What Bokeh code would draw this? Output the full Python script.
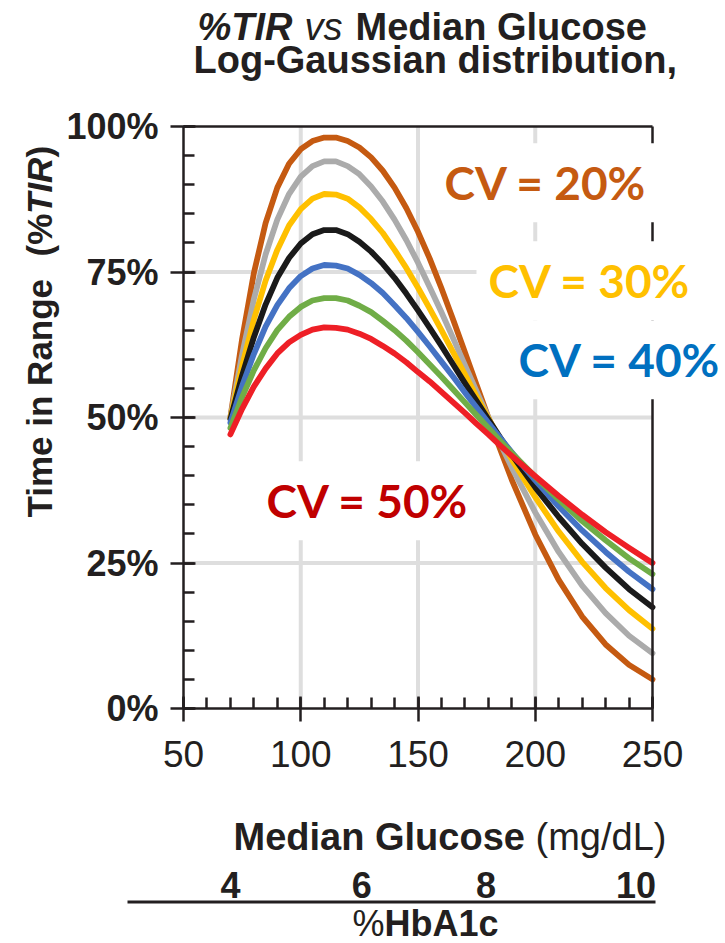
from math import pi

from bokeh.plotting import figure
from bokeh.models import (Range1d, LinearAxis, SingleIntervalTicker, FixedTicker,
                          PrintfTickFormatter, Label)
from bokeh.core.properties import value
from bokeh.embed import file_html
from bokeh.resources import INLINE

# ---------------------------------------------------------------------------
# Data: %TIR (70-180 mg/dL) against median glucose, one curve per CV
# ---------------------------------------------------------------------------
glucose = [70, 75, 80, 85, 90, 95, 100, 105, 110, 115, 120, 125, 130, 135, 140,
           145, 150, 155, 160, 165, 170, 175, 180, 185, 190, 200, 210, 220, 230,
           240, 250]

tir_cv20 = [50.0, 63.5, 74.8, 83.4, 89.5, 93.6, 96.1, 97.5, 98.1, 98.1, 97.5,
            96.4, 94.7, 92.4, 89.5, 86.0, 81.9, 77.3, 72.2, 66.8, 61.2, 55.6,
            50.0, 44.6, 39.3, 29.9, 22.1, 15.8, 11.0, 7.5, 5.0]
tir_cv25 = [50.0, 60.8, 70.3, 78.0, 84.0, 88.4, 91.4, 93.2, 94.0, 94.0, 93.2,
            91.8, 89.7, 87.1, 84.0, 80.5, 76.6, 72.4, 68.1, 63.6, 59.0, 54.5,
            50.0, 45.6, 41.4, 33.7, 26.9, 21.1, 16.4, 12.5, 9.5]
tir_cv30 = [49.9, 58.9, 66.8, 73.5, 78.8, 83.0, 85.8, 87.6, 88.4, 88.3, 87.6,
            86.1, 84.1, 81.7, 78.8, 75.7, 72.3, 68.7, 65.0, 61.2, 57.4, 53.6,
            49.9, 46.3, 42.8, 36.3, 30.4, 25.2, 20.7, 16.9, 13.7]
tir_cv35 = [49.7, 57.2, 63.8, 69.4, 74.0, 77.4, 79.9, 81.5, 82.2, 82.2, 81.5,
            80.2, 78.5, 76.4, 74.0, 71.3, 68.4, 65.4, 62.3, 59.1, 55.9, 52.8,
            49.7, 46.6, 43.6, 38.0, 32.9, 28.3, 24.2, 20.5, 17.4]
tir_cv40 = [49.1, 55.4, 60.9, 65.6, 69.3, 72.2, 74.3, 75.6, 76.2, 76.1, 75.6,
            74.5, 73.1, 71.4, 69.3, 67.1, 64.7, 62.2, 59.6, 57.0, 54.3, 51.7,
            49.1, 46.5, 44.0, 39.2, 34.7, 30.6, 26.9, 23.5, 20.5]
tir_cv45 = [48.2, 53.5, 58.1, 61.9, 65.0, 67.3, 69.0, 70.1, 70.5, 70.5, 70.1,
            69.2, 68.1, 66.6, 65.0, 63.2, 61.2, 59.1, 57.0, 54.8, 52.6, 50.4,
            48.2, 46.0, 43.9, 39.8, 35.9, 32.2, 28.9, 25.8, 23.1]
tir_cv50 = [47.1, 51.5, 55.3, 58.4, 61.0, 62.9, 64.2, 65.1, 65.5, 65.4, 65.1,
            64.4, 63.5, 62.3, 61.0, 59.5, 57.8, 56.2, 54.4, 52.6, 50.8, 48.9,
            47.1, 45.2, 43.4, 39.9, 36.5, 33.3, 30.3, 27.6, 25.0]

x_ticks = [50, 100, 150, 200, 250]
y_ticks = [0, 25, 50, 75, 100]

# HbA1c scale shown under the glucose axis, positioned at matching glucose
hba1c_labels = ["4", "6", "8", "10"]
hba1c_glucose = [70, 126, 179, 243]

# ---------------------------------------------------------------------------
# Layout constants (pixels). The frame fills the whole canvas; the data
# ranges are chosen so that 50-250 mg/dL and 0-100 % land on the plot box.
# ---------------------------------------------------------------------------
W, H = 725, 943
FL, FR, FT, FB = 183, 652, 126, 708          # plot box edges
X0, X1 = x_ticks[0], x_ticks[-1]
Y0, Y1 = y_ticks[0], y_ticks[-1]
KX = (FR - FL) / (X1 - X0)
KY = (FB - FT) / (Y1 - Y0)

INK = "#231f20"
FONT = "Liberation Sans"
# the label anchor sits at mid-height of the em box: offset to the baseline
LIB_MID = 0.3465
LATO_MID = 0.387


def gx(px):
    """canvas x pixel -> glucose units"""
    return X0 + (px - FL) / KX


def ty(py):
    """canvas y pixel -> percent units"""
    return Y0 + (FB - py) / KY


p = figure(width=W, height=H,
           x_range=Range1d(gx(0), gx(W)), y_range=Range1d(ty(H), ty(0)),
           output_backend="svg", toolbar_location=None, min_border=0,
           outline_line_color=None,
           background_fill_color="white", border_fill_color="white")
p.grid.visible = False

# light grid inside the plot box
grid_x = x_ticks[1:-1]
grid_y = y_ticks[1:-1]
p.segment(x0=grid_x, y0=Y0, x1=grid_x, y1=Y1, line_color="#dedede", line_width=4)
p.segment(x0=X0, y0=grid_y, x1=X1, y1=grid_y, line_color="#dedede", line_width=4)

# axes pinned to the plot box edges
xa = p.xaxis[0]
xa.fixed_location = Y0
xa.bounds = (X0, X1)
xa.ticker = SingleIntervalTicker(interval=50, num_minor_ticks=5)
ya = p.yaxis[0]
ya.fixed_location = X0
ya.bounds = (Y0, Y1)
ya.ticker = SingleIntervalTicker(interval=25, num_minor_ticks=5)
ya.formatter = PrintfTickFormatter(format="%d%%")

for ax in (xa, ya):
    ax.axis_line_color = INK
    ax.axis_line_width = 2.5
    ax.major_tick_line_color = INK
    ax.major_tick_line_width = 2.5
    ax.major_tick_in = 12
    ax.major_tick_out = 13
    ax.minor_tick_line_color = INK
    ax.minor_tick_line_width = 2.5
    ax.minor_tick_in = 11
    ax.minor_tick_out = 0
    ax.major_label_text_font = FONT
    ax.major_label_text_color = INK

xa.major_label_text_font_size = "37px"
xa.major_label_text_font_style = "normal"
xa.major_label_standoff = 19
ya.major_label_text_font_size = "36px"
ya.major_label_text_font_style = "bold"
ya.major_label_standoff = 12

# plain box lines on the top and right
top = LinearAxis(fixed_location=Y1, bounds=(X0, X1), ticker=FixedTicker(ticks=[]),
                 axis_line_color=INK, axis_line_width=2.5,
                 major_tick_line_color=None, minor_tick_line_color=None)
right = LinearAxis(fixed_location=X1, bounds=(Y0, Y1), ticker=FixedTicker(ticks=[]),
                   axis_line_color=INK, axis_line_width=2.5,
                   major_tick_line_color=None, minor_tick_line_color=None)
p.add_layout(top, "above")
p.add_layout(right, "right")

# curves, lowest CV first so the high-CV curves sit on top
series = [
    (tir_cv20, "#C55A11"),
    (tir_cv25, "#ABABAB"),
    (tir_cv30, "#FFC000"),
    (tir_cv35, "#1a1a1a"),
    (tir_cv40, "#4472C4"),
    (tir_cv45, "#70AD47"),
    (tir_cv50, "#EE1F26"),
]
for vals, color in series:
    p.line(glucose, vals, line_color=color, line_width=5.8,
           line_cap="round", line_join="round")

# CV call-outs on white boxes (the box padding shifts the text right by PAD_DX)
PAD = 12
PAD_DX = 14
CV_SIZE = 46
cv_notes = [
    ("CV = 20%", 446, 200, "#C55A11"),
    ("CV = 30%", 490, 298, "#FFC000"),
    ("CV = 40%", 520, 377, "#0070C0"),
    ("CV = 50%", 268, 518, "#C00000"),
]
for text, px, py, color in cv_notes:
    p.add_layout(Label(x=gx(px - PAD_DX), y=ty(py - LATO_MID * CV_SIZE), text=text,
                       text_font="Lato", text_font_style="bold",
                       text_font_size=f"{CV_SIZE}px", text_color=color,
                       text_align="left", text_baseline="alphabetic",
                       background_fill_color="white", padding=PAD))


def add_text(px, py, text, size, style, rotated=False):
    """Place a text piece with its start at canvas pixel (px, py) on the baseline."""
    if rotated:
        fx, fy, angle = gx(px - LIB_MID * size), ty(py), pi / 2
    else:
        fx, fy, angle = gx(px), ty(py - LIB_MID * size), 0.0
    p.add_layout(Label(x=fx, y=fy, text=text, text_font=FONT,
                       text_font_style=style, text_font_size=f"{size}px",
                       text_color=INK, text_align="left",
                       text_baseline="alphabetic", angle=angle))


# title
add_text(197, 40, "%TIR", 38, "bold italic")
add_text(304, 40, "vs", 38, "italic")
add_text(355, 40, "Median Glucose", 38, "bold")
add_text(193, 73, "Log-Gaussian distribution,", 38, "bold")

# vertical axis title
add_text(51, 517, "Time in Range", 35, "bold", rotated=True)
add_text(51, 256, "(%", 35, "bold", rotated=True)
add_text(51, 213.5, "TIR", 35, "bold italic", rotated=True)
add_text(51, 157, ")", 35, "bold", rotated=True)

# horizontal axis title
add_text(233, 850, "Median Glucose", 38, "bold")
add_text(535, 850, "(mg/dL)", 38, "normal")

# HbA1c scale
p.text(x=hba1c_glucose, y=ty(897 - LIB_MID * 36), text=hba1c_labels,
       text_align="center", text_baseline="alphabetic",
       text_font=value(FONT), text_font_style="bold",
       text_font_size="36px", text_color=INK)
p.segment(x0=gx(127), y0=ty(901.5), x1=gx(655), y1=ty(901.5),
          line_color=INK, line_width=3)
add_text(352, 935, "%", 36, "normal")
add_text(384, 935, "HbA1c", 36, "bold")

with open("out.html", "w") as f:
    f.write(file_html(p, INLINE))
